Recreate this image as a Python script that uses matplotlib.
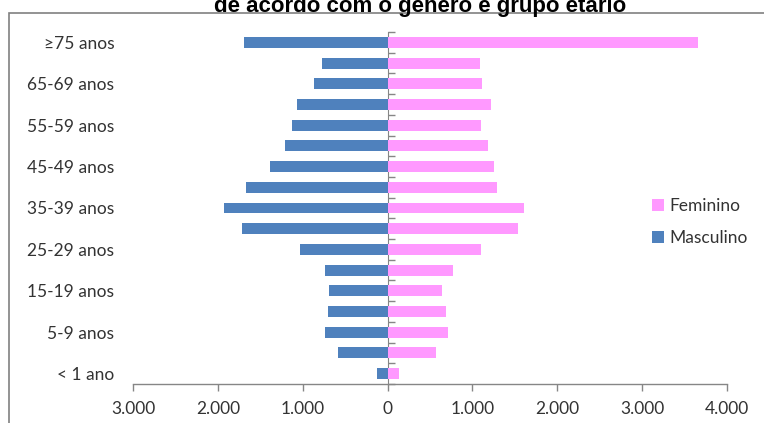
import matplotlib
matplotlib.use("Agg")
import matplotlib.pyplot as plt
from matplotlib.patches import Rectangle
from matplotlib.ticker import FuncFormatter
import numpy as np

plt.rcParams['font.family'] = ['Lato', 'DejaVu Sans']

# Age groups, youngest at the bottom
age_groups = ["< 1 ano", "1-4 anos", "5-9 anos", "10-14 anos", "15-19 anos",
              "20-24 anos", "25-29 anos", "30-34 anos", "35-39 anos",
              "40-44 anos", "45-49 anos", "50-54 anos", "55-59 anos",
              "60-64 anos", "65-69 anos", "70-74 anos", "≥75 anos"]

masculino = [128, 588, 734, 706, 687, 741, 1032, 1719, 1928,
             1672, 1386, 1205, 1130, 1064, 864, 773, 1696]
feminino = [138, 570, 715, 692, 636, 771, 1100, 1537, 1611,
            1289, 1249, 1178, 1100, 1222, 1112, 1092, 3653]

x_ticks = [-3000, -2000, -1000, 0, 1000, 2000, 3000, 4000]

BLUE = "#4F81BD"
PINK = "#FF99FF"
AXIS_GRAY = "#868686"
TEXT = "#333333"

W, H = 764, 423
fig = plt.figure(figsize=(W / 100, H / 100), dpi=100)

# chart frame
fig.patches.append(Rectangle((9 / W, -0.1), 1.2, 1 - 13 / H + 0.1,
                             transform=fig.transFigure, fill=False,
                             edgecolor="#808080", linewidth=1.2, zorder=0))

fig.text(420 / W, 1 - 12 / H, "de acordo com o gênero e grupo etário",
         ha="center", va="baseline", fontsize=16, fontweight="bold",
         family=["Liberation Sans", "DejaVu Sans"], color="black")

ax = fig.add_axes([133 / W, 39 / H, (727 - 133) / W, (384 - 32) / H])

y = np.arange(len(age_groups))
bar_h = 0.53
ax.barh(y, [-v for v in masculino], height=bar_h, color=BLUE,
        label="Masculino", zorder=2)
ax.barh(y, feminino, height=bar_h, color=PINK, label="Feminino", zorder=2)

ax.set_xlim(x_ticks[0], x_ticks[-1])
ax.set_ylim(-0.5, len(age_groups) - 0.5)

for side in ("top", "right", "left"):
    ax.spines[side].set_visible(False)
ax.spines["bottom"].set_color(AXIS_GRAY)
ax.spines["bottom"].set_linewidth(1.0)

ax.set_xticks(x_ticks)
ax.xaxis.set_major_formatter(FuncFormatter(
    lambda v, p: f"{abs(int(v)):,}".replace(",", ".")))
ax.tick_params(axis="x", direction="out", length=5, width=1,
               color=AXIS_GRAY, labelcolor=TEXT, labelsize=12.5, pad=7)

ax.set_yticks(y[::2])
ax.set_yticklabels(age_groups[::2])
ax.tick_params(axis="y", length=0, labelcolor=TEXT, labelsize=12.5, pad=13.5)

# vertical category axis at zero, with marks at the category boundaries
sec = ax.secondary_yaxis(3 / 7)
sec.set_yticks(np.arange(-0.5, len(age_groups), 1.0))
sec.tick_params(axis="y", direction="in", length=5, width=1,
                color=AXIS_GRAY, left=True, right=False,
                labelleft=False, labelright=False)
for s in sec.spines.values():
    s.set_color(AXIS_GRAY)

handles, labels = ax.get_legend_handles_labels()
leg = fig.legend(handles[::-1], labels[::-1], loc="center left",
                 bbox_to_anchor=(652 / W, 1 - 222 / H),
                 frameon=False, fontsize=12.5, handlelength=0.7,
                 handleheight=0.7, handletextpad=0.3, labelspacing=0.95,
                 borderpad=0, borderaxespad=0, labelcolor=TEXT)

fig.savefig("out.png", dpi=100)
